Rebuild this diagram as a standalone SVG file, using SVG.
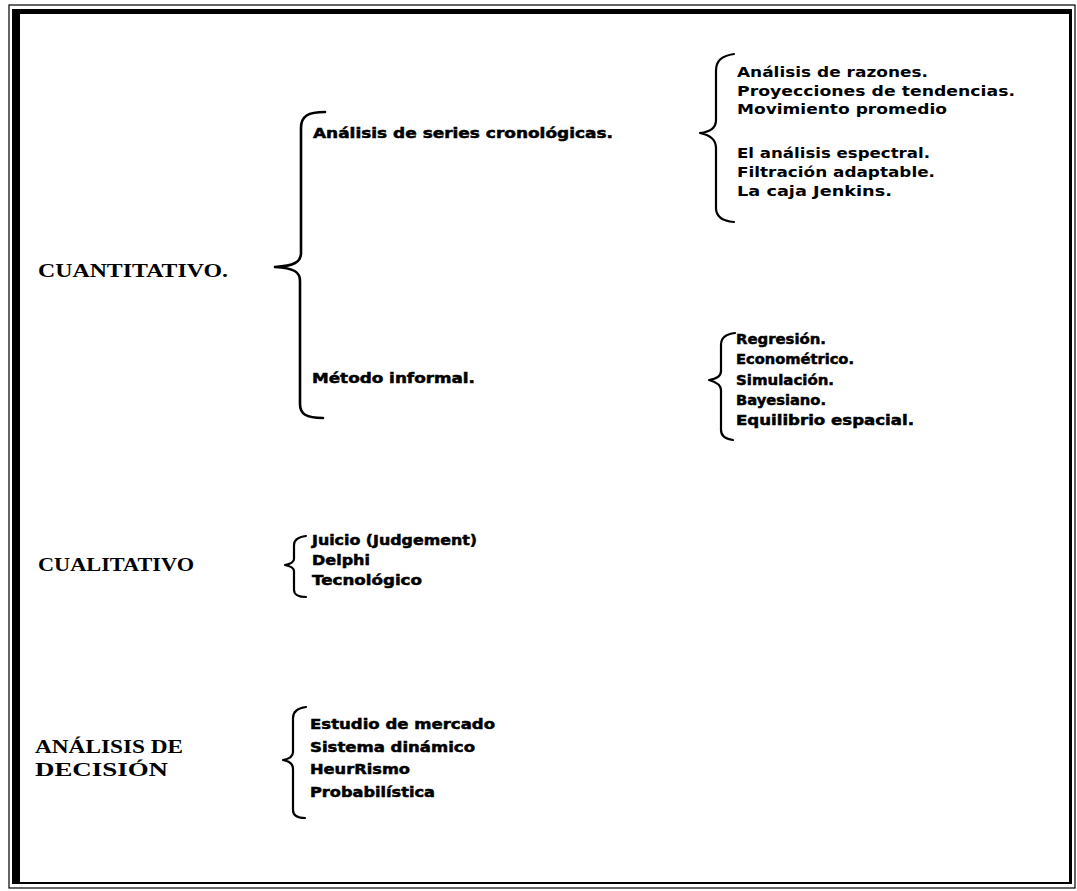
<svg xmlns="http://www.w3.org/2000/svg" width="1077" height="891" viewBox="0 0 1077 891">
<style>
.lbl{font-family:"Liberation Serif","Times New Roman",serif;font-weight:bold;font-size:18px;fill:#000}
.it{font-family:"DejaVu Sans","Liberation Sans",sans-serif;font-weight:bold;font-size:14px;fill:#000}
.hv{font-family:"DejaVu Sans","Liberation Sans",sans-serif;font-weight:bold;font-size:14px;fill:#000;stroke:#000;stroke-width:0.5}
.br{fill:none;stroke:#000;stroke-width:2.2;stroke-linecap:round;stroke-linejoin:round}
</style>
<rect x="0" y="0" width="1077" height="891" fill="#fff"/>
<g id="frame">
<rect x="9" y="5" width="1066" height="883" fill="none" stroke="#000" stroke-width="1.2"/>
<path d="M17,11 H1071 V883 H17 Z" fill="none" stroke="#000" stroke-width="1.5"/>
<rect x="12" y="9" width="8" height="875" fill="#000"/>
<rect x="12" y="9" width="1059" height="5" fill="#000"/>
<rect x="1069" y="9" width="3" height="875" fill="#000"/>
<rect x="12" y="882" width="1060" height="2" fill="#000"/>
</g>
<g id="connectors">
<path class="br" style="stroke-width:2.6" d="M325,112 C308,112 301,116 301,128 L301,253 C301,262 294,266 275,267 C294,268 300,272 300,281 L300,404 C300,414 306,418 323,418"/>
<path class="br" d="M734,54 C721,56 716,61 716,71 L716,120 C716,128 710,132 700,133 C710,135 716,139 716,148 L716,208 C716,217 722,221 734,222"/>
<path class="br" d="M735,333 C725,334 721,338 721,345 L721,371 C721,376 716,379 709,380 C716,382 721,385 721,390 L721,430 C721,436 725,439 733,440"/>
<path class="br" d="M306,536 C298,537 294,540 294,545 L294,559 C294,562 290,564 285,565 C290,566 294,568 294,571 L294,590 C294,594 298,597 306,597"/>
<path class="br" d="M306,707 C298,708 293,711 293,718 L293,752 C293,757 289,759 283,760 C289,761 293,764 293,769 L293,810 C293,815 297,818 305,818"/>
</g>
<g id="n-cuantitativo"><text class="lbl" x="38" y="277" textLength="190" lengthAdjust="spacingAndGlyphs">CUANTITATIVO.</text></g>
<g id="n-series"><text class="hv" x="313" y="138" textLength="300" lengthAdjust="spacingAndGlyphs">Análisis de series cronológicas.</text></g>
<g id="n-series-items">
<text class="it" x="737" y="77" textLength="191" lengthAdjust="spacingAndGlyphs">Análisis de razones.</text>
<text class="it" x="737" y="96" textLength="278" lengthAdjust="spacingAndGlyphs">Proyecciones de tendencias.</text>
<text class="it" x="737" y="114" textLength="210" lengthAdjust="spacingAndGlyphs">Movimiento promedio</text>
<text class="it" x="737" y="158" textLength="193" lengthAdjust="spacingAndGlyphs">El análisis espectral.</text>
<text class="it" x="737" y="177" textLength="198" lengthAdjust="spacingAndGlyphs">Filtración adaptable.</text>
<text class="it" x="737" y="196" textLength="155" lengthAdjust="spacingAndGlyphs">La caja Jenkins.</text>
</g>
<g id="n-informal"><text class="hv" x="312" y="383" textLength="163" lengthAdjust="spacingAndGlyphs">Método informal.</text></g>
<g id="n-informal-items">
<text class="hv" x="736" y="344" textLength="90" lengthAdjust="spacingAndGlyphs">Regresión.</text>
<text class="hv" x="736" y="364" textLength="118" lengthAdjust="spacingAndGlyphs">Econométrico.</text>
<text class="hv" x="736" y="385" textLength="98" lengthAdjust="spacingAndGlyphs">Simulación.</text>
<text class="hv" x="736" y="405" textLength="90" lengthAdjust="spacingAndGlyphs">Bayesiano.</text>
<text class="hv" x="736" y="425" textLength="178" lengthAdjust="spacingAndGlyphs">Equilibrio espacial.</text>
</g>
<g id="n-cualitativo"><text class="lbl" x="38" y="571" textLength="156" lengthAdjust="spacingAndGlyphs">CUALITATIVO</text></g>
<g id="n-cualitativo-items">
<text class="hv" x="312" y="545" textLength="165" lengthAdjust="spacingAndGlyphs">Juicio (Judgement)</text>
<text class="hv" x="312" y="565" textLength="58" lengthAdjust="spacingAndGlyphs">Delphi</text>
<text class="hv" x="312" y="585" textLength="110" lengthAdjust="spacingAndGlyphs">Tecnológico</text>
</g>
<g id="n-decision">
<text class="lbl" x="35" y="753" textLength="148" lengthAdjust="spacingAndGlyphs">ANÁLISIS DE</text>
<text class="lbl" x="35" y="776" textLength="133" lengthAdjust="spacingAndGlyphs">DECISIÓN</text>
</g>
<g id="n-decision-items">
<text class="hv" x="310" y="729" textLength="185" lengthAdjust="spacingAndGlyphs">Estudio de mercado</text>
<text class="hv" x="310" y="752" textLength="165" lengthAdjust="spacingAndGlyphs">Sistema dinámico</text>
<text class="hv" x="310" y="774" textLength="100" lengthAdjust="spacingAndGlyphs">HeurRismo</text>
<text class="hv" x="310" y="797" textLength="125" lengthAdjust="spacingAndGlyphs">Probabilística</text>
</g>
</svg>
